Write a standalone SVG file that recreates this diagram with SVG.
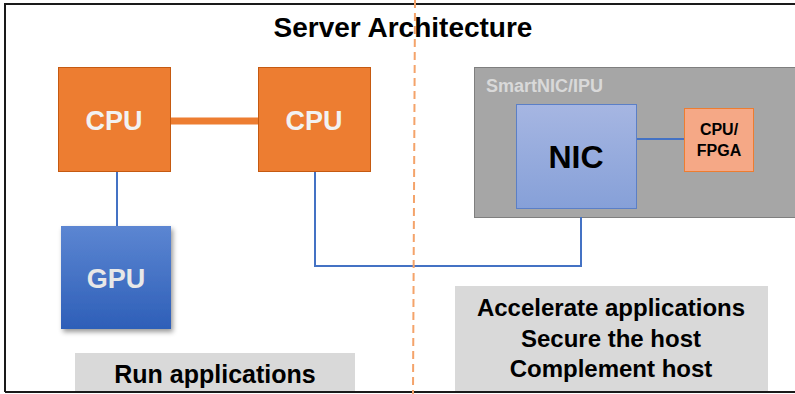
<svg xmlns="http://www.w3.org/2000/svg" width="795" height="394" viewBox="0 0 795 394">
<style>
  text { font-family: "Liberation Sans", Arial, sans-serif; font-weight: bold; text-anchor: middle; }
  .cpu rect { fill: #ed7d31; stroke: #c55a11; stroke-width: 1; }
  .cpu text { fill: #f2f2f2; font-size: 27px; }
  .blue { stroke: #4472c4; stroke-width: 2; fill: none; }
  .label rect { fill: #d9d9d9; }
  .label text { fill: #000; font-size: 24px; }
</style>
<defs>
  <linearGradient id="gpuGrad" x1="0" y1="0" x2="0" y2="1">
    <stop offset="0" stop-color="#5c86d2"/>
    <stop offset="1" stop-color="#2e5fb8"/>
  </linearGradient>
  <linearGradient id="nicGrad" x1="0" y1="0" x2="0" y2="1">
    <stop offset="0" stop-color="#a6b6e2"/>
    <stop offset="1" stop-color="#86a0d8"/>
  </linearGradient>
  <filter id="shadow" x="-20%" y="-20%" width="150%" height="150%">
    <feDropShadow dx="2" dy="3" stdDeviation="2.5" flood-color="#000" flood-opacity="0.4"/>
  </filter>
</defs>
<rect x="0" y="0" width="795" height="394" fill="#ffffff"/>
<path d="M5,392 V4 H795 M5,392 H795" fill="none" stroke="#1a1a1a" stroke-width="2"/>

<text x="403" y="37" font-size="28" fill="#000">Server Architecture</text>

<g id="smartnic">
  <rect x="474.5" y="67.5" width="322" height="150" fill="#a6a6a6" stroke="#7f7f7f" stroke-width="1"/>
  <text x="486" y="92" font-size="18" fill="#d9d9d9" style="text-anchor:start">SmartNIC/IPU</text>
</g>

<g id="connectors">
  <line x1="170" y1="121" x2="258" y2="121" stroke="#ed7d31" stroke-width="7"/>
  <line class="blue" x1="117" y1="171" x2="117" y2="226"/>
  <polyline class="blue" points="315,171 315,266 581,266 581,217"/>
  <line class="blue" x1="636" y1="139" x2="684" y2="139"/>
  <line x1="415" y1="0" x2="413" y2="394" stroke="#f4a36a" stroke-width="2" stroke-dasharray="8,5"/>
</g>

<g id="cpu1" class="cpu">
  <rect x="58.5" y="67.5" width="112" height="104"/>
  <text x="114" y="130">CPU</text>
</g>
<g id="cpu2" class="cpu">
  <rect x="258.5" y="67.5" width="112" height="104"/>
  <text x="314" y="130">CPU</text>
</g>
<g id="gpu">
  <rect x="61" y="226" width="110" height="103" fill="url(#gpuGrad)" filter="url(#shadow)"/>
  <text x="116" y="288" font-size="27" fill="#e8e8e8">GPU</text>
</g>
<g id="nic">
  <rect x="516.5" y="104.5" width="120" height="104" fill="url(#nicGrad)" stroke="#5b7fc6" stroke-width="1"/>
  <text x="576" y="168" font-size="32" fill="#000">NIC</text>
</g>
<g id="cpufpga">
  <rect x="684.5" y="108.5" width="69" height="63" fill="#f5a886" stroke="#ed7d31" stroke-width="1"/>
  <text x="719" y="135" font-size="16" fill="#000">CPU/</text>
  <text x="719" y="156" font-size="16" fill="#000">FPGA</text>
</g>

<g id="run" class="label">
  <rect x="75" y="353" width="280" height="38"/>
  <text x="215" y="383" style="font-size:25px">Run applications</text>
</g>
<g id="accel" class="label">
  <rect x="455" y="286" width="313" height="105"/>
  <text x="611" y="316">Accelerate applications</text>
  <text x="611" y="347">Secure the host</text>
  <text x="611" y="377">Complement host</text>
</g>
</svg>
